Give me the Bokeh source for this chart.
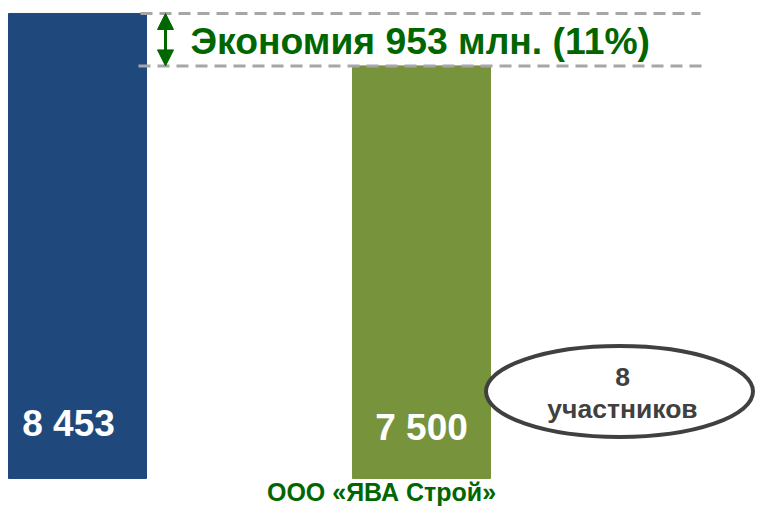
from bokeh.plotting import figure
from bokeh.models import Range1d, Arrow, NormalHead, ColumnDataSource
from bokeh.core.properties import value
from bokeh.embed import file_html
from bokeh.resources import INLINE

# ---- data ----
bar_names = ["Начальная цена", "ООО «ЯВА Строй»"]
bar_values = [8453, 7500]
bar_labels = ["8 453", "7 500"]
participants = 8
winner_label = "ООО «ЯВА Строй»"

saving = bar_values[0] - bar_values[1]
saving_pct = round(saving / bar_values[0] * 100)
saving_text = f"Экономия {saving} млн. ({saving_pct}%)"

BLUE = "#1F497D"
OLIVE = "#77933C"
GREEN = "#006600"
GREY = "#404040"
FONT = value("Liberation Sans")

p = figure(width=755, height=510, output_backend="svg", toolbar_location=None,
           x_range=Range1d(0, 755), y_range=Range1d(-582, 8689),
           x_axis_type=None, y_axis_type=None, min_border=0,
           outline_line_color=None, background_fill_color="white",
           border_fill_color="white")
p.grid.visible = False

src = ColumnDataSource(dict(x=[77, 421], top=bar_values, color=[BLUE, OLIVE],
                            label=bar_labels, xo=[-9, 0], yo=[-55, -51]))
p.vbar(x="x", top="top", bottom=0, width=138, color="color", source=src)

# value labels inside bars
p.text(x="x", y=0, text="label", x_offset="xo", y_offset="yo", source=src,
       text_align="center", text_baseline="middle", text_color="white",
       text_font=FONT, text_font_style="bold", text_font_size="37px")

# dashed reference lines
p.segment(x0=[140, 138], x1=[700, 707], y0=bar_values, y1=bar_values,
          line_color="#a6a6a6", line_width=3, line_dash="12 7")

# double arrow
p.add_layout(Arrow(start=NormalHead(size=16, fill_color=GREEN, line_color=GREEN),
                   end=NormalHead(size=16, fill_color=GREEN, line_color=GREEN),
                   x_start=165, y_start=bar_values[1], x_end=165, y_end=bar_values[0],
                   line_color=GREEN, line_width=3))

# saving text
p.text(x=[190], y=[(bar_values[0] + bar_values[1]) / 2], text=[saving_text],
       y_offset=1, text_align="left", text_baseline="middle", text_color=GREEN,
       text_font=FONT, text_font_style="bold", text_font_size="37.3px")

# ellipse with participants
p.ellipse(x=[619], y=[1582], width=267, height=91, width_units="screen",
          height_units="screen", fill_color="white", line_color=GREY, line_width=4)
p.text(x=[622, 622], y=[1582, 1582], text=[str(participants), "участников"],
       y_offset=[-14, 18], text_align="center", text_baseline="middle",
       text_color=GREY, text_font=FONT, text_font_style="bold",
       text_font_size="26.5px")

# category label
p.text(x=[381], y=[0], text=[winner_label], y_offset=14, text_align="center",
       text_baseline="middle", text_color=GREEN, text_font=FONT,
       text_font_style="bold", text_font_size="25px")

open("out.html", "w").write(file_html(p, INLINE))
